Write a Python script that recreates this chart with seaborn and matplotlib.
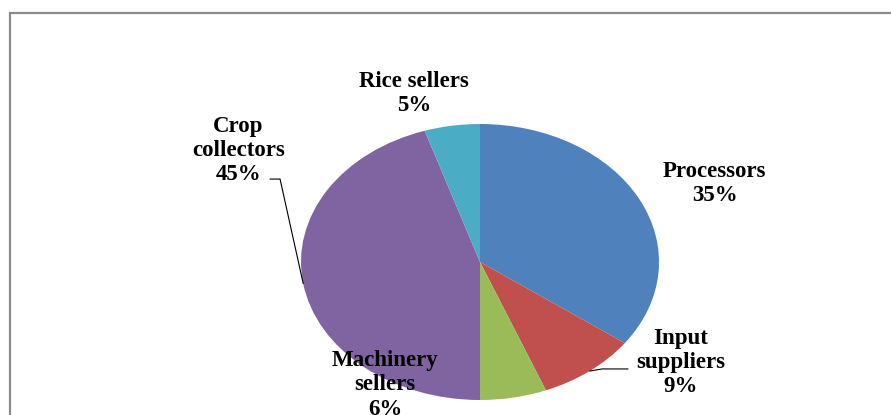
import numpy as np
import matplotlib
matplotlib.use("Agg")
import matplotlib.pyplot as plt
import matplotlib.patches as mpatches
import seaborn as sns

# data
categories = ["Processors", "Input\nsuppliers", "Machinery\nsellers", "Crop\ncollectors", "Rice sellers"]
shares = [35, 9, 6, 45, 5]
colors = ["#4F81BD", "#C0504D", "#9BBB59", "#8064A2", "#4BACC6"]
# label centres in pie units (radius = 1), as placed in the original
label_xy = [(1.31, 0.57), (1.12, -0.73), (-0.53, -0.89), (-1.35, 0.81), (-0.37, 1.22)]

sns.set_theme(style="white")
plt.rcParams["font.family"] = ["Liberation Serif", "DejaVu Serif"]

fig = plt.figure(figsize=(8.91, 4.15), dpi=100)
ax = fig.add_axes([0, 0, 1, 1])

wedges, _ = ax.pie(shares, colors=colors, startangle=90, counterclock=False,
                   radius=1, wedgeprops=dict(linewidth=0))

# stretched ellipse like the original: 179 px wide radius, 138 px tall radius
W, H = 891, 415
cx, cy = 480, 262
rx, ry = 179, 138
ax.set_aspect("auto")
ax.set_xlim(-cx / rx, (W - cx) / rx)
ax.set_ylim(-(H - cy) / ry, cy / ry)
ax.axis("off")

for cat, val, (lx, ly) in zip(categories, shares, label_xy):
    ax.text(lx, ly, f"{cat}\n{val}%", ha="center", va="center", fontsize=16.5,
            fontweight="bold", linespacing=1.2, color="black")

# leader lines
mid = [(w.theta1 + w.theta2) / 2 for w in wedges]
a = np.deg2rad(mid[3])
ax.plot([np.cos(a), -1.117, -1.173], [np.sin(a), 0.601, 0.601], color="black", lw=0.8)
a = np.deg2rad(mid[1])
ax.plot([np.cos(a), 0.682, 0.827], [np.sin(a), -0.775, -0.775], color="black", lw=0.8)

# chart border (partly cropped in the original)
fig.patches.append(mpatches.Rectangle((10 / W, -0.1), 1.2, (H - 13) / H + 0.1,
                                      transform=fig.transFigure, fill=False,
                                      edgecolor="#8a8a8a", lw=1.6))

fig.savefig("out.png", dpi=100)
